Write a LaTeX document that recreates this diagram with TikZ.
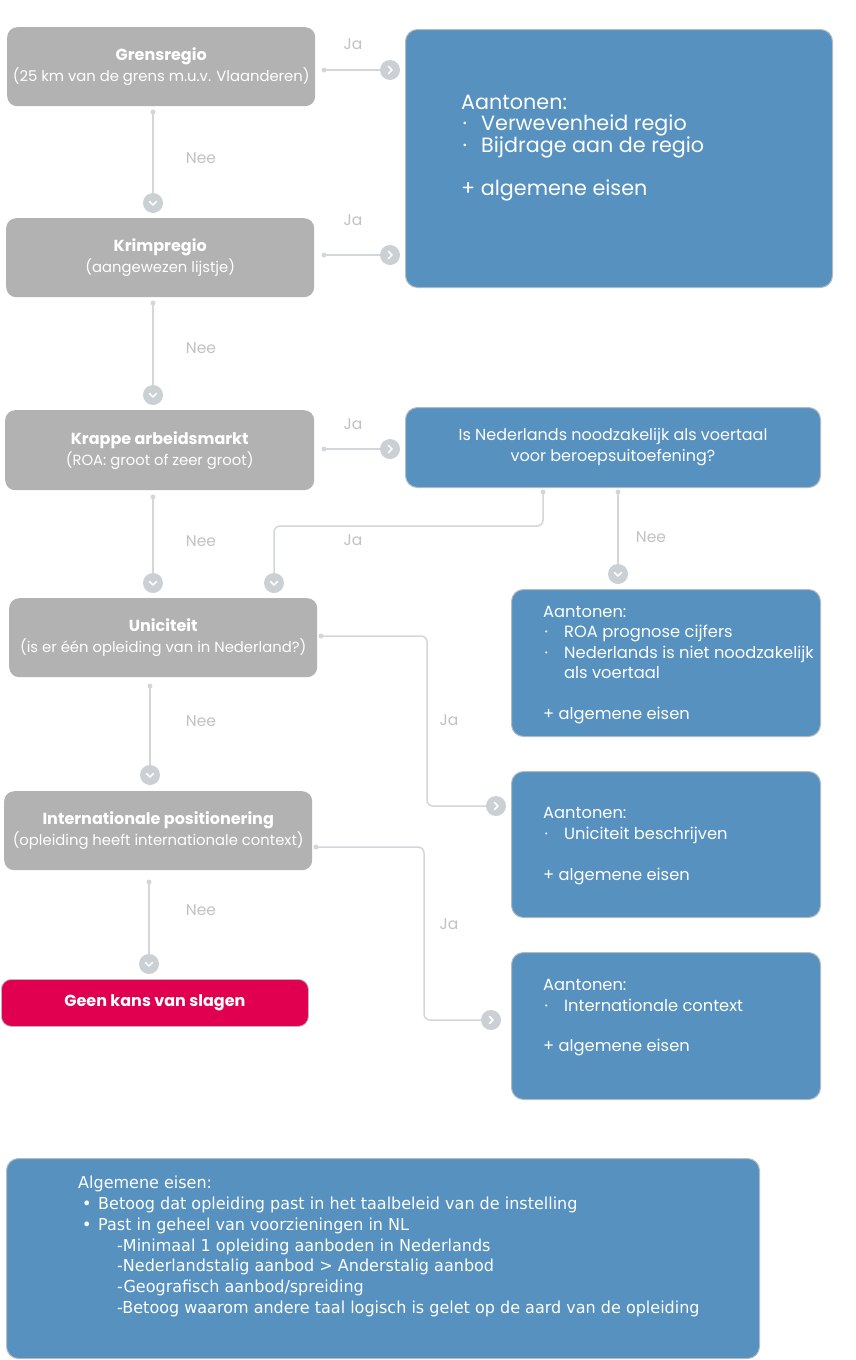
\documentclass[tikz,border=0pt]{standalone}
\usepackage{fontspec}
\setmainfont{Poppins}
\newfontfamily\verdfont[FakeStretch=0.97]{DejaVu Sans}
\definecolor{nodegray}{HTML}{B2B2B2}
\definecolor{boxblue}{HTML}{5691C0}
\definecolor{redbox}{HTML}{E1004F}
\definecolor{linegray}{HTML}{D3D7DB}
\definecolor{chevgray}{HTML}{CBD0D5}
\definecolor{labgray}{HTML}{C2C2C2}
\definecolor{bordergray}{HTML}{B4BAC0}
\newcommand\bulw[1]{\makebox[#1][l]{\kern1.5pt\textperiodcentered}}
\newcommand\qtitle[1]{{\bfseries\fontsize{16}{21}\selectfont #1}}
\tikzset{
  qbox/.style={fill=nodegray, rounded corners=10pt, text=white, align=center, inner sep=0pt, anchor=north west, font=\fontsize{14.8}{21}\selectfont},
  abox/.style={fill=boxblue, draw=bordergray, line width=1pt, rounded corners=12pt, inner sep=0pt, anchor=north west},
  atext/.style={text=white, align=left, anchor=west, inner sep=0pt, font=\fontsize{16.3}{20.5}\selectfont},
  lab/.style={text=labgray, font=\fontsize{15.5}{16}\selectfont, inner sep=0pt},
  conn/.style={draw=linegray, line width=1.5pt, rounded corners=6pt},
  dot/.style={circle, fill=linegray, inner sep=0pt, minimum size=5pt},
  chevr/.style={circle, fill=chevgray, inner sep=0pt, minimum size=20pt,
    path picture={\draw[white, line width=1.6pt, line cap=round, line join=round]
      ([shift={(-1.5,-3.5)}]path picture bounding box.center) -- ++(3.5,3.5) -- ++(-3.5,3.5);}},
  chevd/.style={circle, fill=chevgray, inner sep=0pt, minimum size=20pt,
    path picture={\draw[white, line width=1.6pt, line cap=round, line join=round]
      ([shift={(-3.5,-1.5)}]path picture bounding box.center) -- ++(3.5,3.5) -- ++(3.5,-3.5);}},
}
\begin{document}
\begin{tikzpicture}[x=1pt,y=-1pt]
\useasboundingbox (0,0) rectangle (856,1360);
\fill[white] (0,0) rectangle (856,1360);

% question nodes
\node[qbox, minimum width=308pt, minimum height=79pt] (grens) at (7,27)
  {\qtitle{Grensregio}\\(25 km van de grens m.u.v. Vlaanderen)};
\node[qbox, minimum width=308pt, minimum height=79pt] (krimp) at (6,218)
  {\qtitle{Krimpregio}\\(aangewezen lijstje)};
\node[qbox, minimum width=309pt, minimum height=80pt] (krap) at (5,410)
  {\qtitle{Krappe arbeidsmarkt}\\(ROA: groot of zeer groot)};
\node[qbox, minimum width=308pt, minimum height=79pt] (unic) at (9,598)
  {\qtitle{Uniciteit}\\(is er één opleiding van in Nederland?)};
\node[qbox, minimum width=308pt, minimum height=79pt] (intl) at (4,791)
  {\qtitle{Internationale positionering}\\(opleiding heeft internationale context)};
\node[qbox, fill=redbox, draw=bordergray, line width=0.8pt, minimum width=307pt, minimum height=47pt] (geen) at (1,979)
  {\qtitle{Geen kans van slagen}};

% blue boxes
\node[abox, minimum width=427pt, minimum height=258pt] (big) at (405,29) {};
\node[atext, font=\fontsize{20.7}{21}\selectfont] (bigt) at (461,148)
  {Aantonen:\\\bulw{20pt}Verwevenheid regio\\\bulw{20pt}Bijdrage aan de regio\\[20pt]+ algemene eisen};
\node[abox, minimum width=415pt, minimum height=80pt, text=white, align=center, font=\fontsize{16}{21}\selectfont] (isned) at (405,407)
  {Is Nederlands noodzakelijk als voertaal\\voor beroepsuitoefening?};
\node[abox, minimum width=309pt, minimum height=147pt] (roa) at (511,589) {};
\node[atext] (roat) at (543,665)
  {Aantonen:\\\bulw{21pt}ROA prognose cijfers\\\bulw{21pt}Nederlands is niet noodzakelijk\\\hspace*{21pt}als voertaal\\[20pt]+ algemene eisen};
\node[abox, minimum width=309pt, minimum height=146pt] (unicb) at (511,771) {};
\node[atext] (unicbt) at (543,846)
  {Aantonen:\\\bulw{21pt}Uniciteit beschrijven\\[20.5pt]+ algemene eisen};
\node[abox, minimum width=309pt, minimum height=147pt] (intb) at (511,952) {};
\node[atext] (intbt) at (543,1018)
  {Aantonen:\\\bulw{21pt}Internationale context\\[20pt]+ algemene eisen};
\node[abox, minimum width=753pt, minimum height=200pt] (alg) at (6,1158) {};
\node[atext, font=\verdfont\fontsize{16.5}{20.8}\selectfont] (algt) at (78,1246.5)
  {Algemene eisen:\\
   \makebox[20pt][l]{\kern4pt\textbullet}Betoog dat opleiding past in het taalbeleid van de instelling\\
   \makebox[20pt][l]{\kern4pt\textbullet}Past in geheel van voorzieningen in NL\\
   \hspace*{39pt}-Minimaal 1 opleiding aanboden in Nederlands\\
   \hspace*{39pt}-Nederlandstalig aanbod > Anderstalig aanbod\\
   \hspace*{39pt}-Geografisch aanbod/spreiding\\
   \hspace*{39pt}-Betoog waarom andere taal logisch is gelet op de aard van de opleiding};

% dots and chevrons
\node[dot] (d1) at (324,70) {};   \node[chevr] (c1) at (390,70) {};
\node[dot] (d2) at (324,255) {};  \node[chevr] (c2) at (390,255) {};
\node[dot] (d3) at (324,449) {};  \node[chevr] (c3) at (390,449) {};
\node[dot] (e1) at (153,112) {};  \node[chevd] (f1) at (153,203) {};
\node[dot] (e2) at (153,303) {};  \node[chevd] (f2) at (153,395) {};
\node[dot] (e3) at (153,497) {};  \node[chevd] (f3) at (153,583) {};
\node[dot] (e4) at (150,686) {};  \node[chevd] (f4) at (150,775) {};
\node[dot] (e5) at (149,882) {};  \node[chevd] (f5) at (149,964) {};
\node[dot] (g1) at (543,492) {};  \node[chevd] (h1) at (274,583) {};
\node[dot] (g2) at (618,492) {};  \node[chevd] (h2) at (618,574) {};
\node[dot] (g3) at (321,636) {};  \node[chevr] (h3) at (496,806) {};
\node[dot] (g4) at (316,847) {};  \node[chevr] (h4) at (491,1020) {};
\coordinate (kIs) at (0,526);
\coordinate (kU) at (427,0);
\coordinate (kI) at (424,0);

% connectors
\draw[conn] (d1.center) -- (c1);
\draw[conn] (d2.center) -- (c2);
\draw[conn] (d3.center) -- (c3);
\draw[conn] (e1.center) -- (f1);
\draw[conn] (e2.center) -- (f2);
\draw[conn] (e3.center) -- (f3);
\draw[conn] (e4.center) -- (f4);
\draw[conn] (e5.center) -- (f5);
\draw[conn] (g1.center) -- (g1 |- kIs) -- (h1 |- kIs) -- (h1);
\draw[conn] (g2.center) -- (h2);
\draw[conn] (g3.center) -- (g3 -| kU) -- (kU |- h3) -- (h3);
\draw[conn] (g4.center) -- (g4 -| kI) -- (kI |- h4) -- (h4);

% labels
\node[lab] (ja1) at (353,44) {Ja};
\node[lab] (ja2) at (353,220) {Ja};
\node[lab] (ja3) at (353,424) {Ja};
\node[lab] (ja4) at (353,540) {Ja};
\node[lab] (ja5) at (449,720) {Ja};
\node[lab] (ja6) at (449,924) {Ja};
\node[lab] (nee1) at (201,158) {Nee};
\node[lab] (nee2) at (201,348) {Nee};
\node[lab] (nee3) at (201,541) {Nee};
\node[lab] (nee4) at (201,721) {Nee};
\node[lab] (nee5) at (201,910) {Nee};
\node[lab] (nee6) at (651,537) {Nee};
\end{tikzpicture}
\end{document}
